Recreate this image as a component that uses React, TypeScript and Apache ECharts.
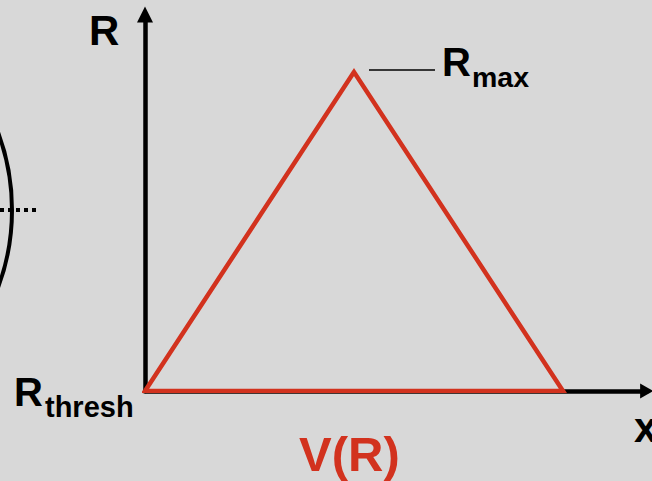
import React, { useEffect, useRef } from "react";
import * as echarts from "echarts";

// Triangle vertices of V(R): position along x and value of R
const vertexX = [0, 1, 2];
const vertexR = [0, 1, 0]; // R_thresh, R_max, R_thresh
// drawing order (first edge retraced so that every corner is mitred)
const pathOrder = [0, 1, 2, 0, 1];
// axis extents
const xRange = [0, 2.4];
const rRange = [0, 1.18];
// texts
const rAxisTitle = "R";
const xAxisTitle = "x";
const maxLabel = ["R", "max"];
const threshLabel = ["R", "thresh"];
const seriesLabel = "V(R)";

const RED = "#d2321e";
const BG = "#d8d8d8";
const FONT = "'Liberation Sans', Arial, Helvetica, sans-serif";

function txt(text: string, x: number, baseline: number, fs: number, color = "#000") {
  return {
    type: "text",
    x,
    y: baseline - 0.3465 * fs,
    z: 10,
    style: {
      text,
      fontSize: fs,
      fontWeight: "bold",
      fontFamily: FONT,
      fill: color,
      align: "left",
      verticalAlign: "middle",
    },
  };
}

export default function App() {
  const ref = useRef<HTMLDivElement>(null);
  useEffect(() => {
    if (!ref.current) return;
    const chart = echarts.init(ref.current, null, { renderer: "svg" });
    const data = pathOrder.map((i) => [vertexX[i], vertexR[i]]);
    const axisCommon = {
      type: "value",
      axisTick: { show: false },
      axisLabel: { show: false },
      splitLine: { show: false },
    };
    chart.setOption({
      animation: false,
      backgroundColor: BG,
      grid: { left: 145, top: 14.6, width: 501.6, height: 376.4, containLabel: false },
      xAxis: {
        ...axisCommon,
        min: xRange[0],
        max: xRange[1],
        axisLine: {
          show: true,
          onZero: false,
          symbol: ["none", "triangle"],
          symbolSize: [15, 13],
          lineStyle: { color: "#000", width: 4.5 },
        },
      },
      yAxis: {
        ...axisCommon,
        min: rRange[0],
        max: rRange[1],
        axisLine: {
          show: true,
          onZero: false,
          symbol: ["none", "triangle"],
          symbolSize: [16, 16],
          lineStyle: { color: "#000", width: 4.5 },
        },
      },
      series: [
        {
          type: "line",
          data,
          symbol: "none",
          z: 5,
          lineStyle: { color: RED, width: 4.5, join: "miter", cap: "butt" },
        },
      ],
    });

    const apex = chart.convertToPixel({ gridIndex: 0 }, [vertexX[1], vertexR[1]]) as number[];
    const origin = chart.convertToPixel({ gridIndex: 0 }, [vertexX[0], vertexR[0]]) as number[];

    chart.setOption({
      graphic: [
        // partial circle on the left edge
        {
          type: "circle",
          shape: { cx: -210, cy: 210, r: 222 },
          style: { fill: "none", stroke: "#000", lineWidth: 4 },
        },
        {
          type: "line",
          shape: { x1: 0, y1: 210, x2: 36, y2: 210 },
          style: { stroke: "#000", lineWidth: 4, lineDash: [4, 4] },
        },
        // leader line to R_max
        {
          type: "line",
          shape: { x1: apex[0] + 15, y1: apex[1] - 2, x2: apex[0] + 81, y2: apex[1] - 2 },
          style: { stroke: "#000", lineWidth: 1.6 },
        },
        txt(maxLabel[0], apex[0] + 88, apex[1] + 4, 40),
        txt(maxLabel[1], apex[0] + 118, apex[1] + 14.5, 28.5),
        txt(threshLabel[0], origin[0] - 131, origin[1] + 15, 40),
        txt(threshLabel[1], origin[0] - 100, origin[1] + 26, 29),
        txt(rAxisTitle, origin[0] - 56, 45, 42),
        txt(xAxisTitle, 634, 442, 42),
        txt(seriesLabel, apex[0] - 55, 471, 49, RED),
      ],
    });
    return () => chart.dispose();
  }, []);
  return (
    <div
      ref={ref}
      style={{ position: "fixed", left: 0, top: 0, width: 652, height: 481, background: BG }}
    />
  );
}
